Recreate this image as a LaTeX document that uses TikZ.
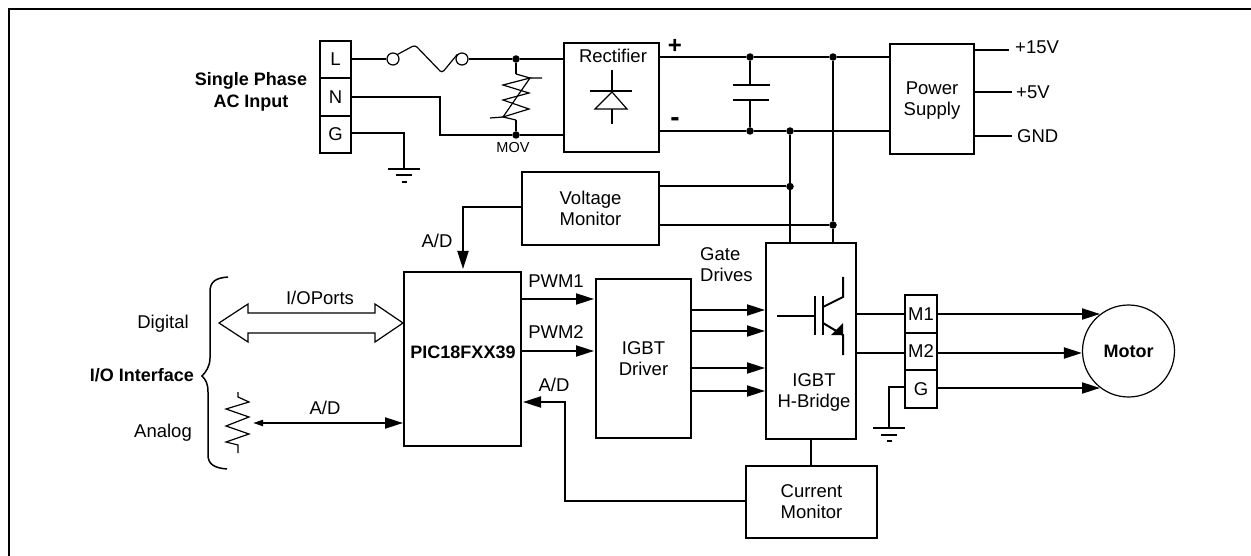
\documentclass[tikz,border=0pt]{standalone}
\usepackage{fontspec}
\setmainfont{Liberation Sans}
\usetikzlibrary{arrows.meta,calc}

\begin{document}
\begin{tikzpicture}[
  x=1pt, y=-1pt,
  txtNode/.style={inner sep=0pt, align=center, font=\fontsize{18.5}{21}\selectfont},
  boldNode/.style={txtNode, font=\fontsize{18}{22}\selectfont\bfseries},
  blockNode/.style={rectangle, draw, line width=2pt, inner sep=0pt, align=center,
                    font=\fontsize{18.5}{21}\selectfont},
  termNode/.style={blockNode, minimum width=31pt, minimum height=37.5pt},
  dotNode/.style={circle, fill=black, inner sep=0pt, minimum size=7.5pt},
  fuseNode/.style={circle, draw, line width=1.2pt, inner sep=0pt, minimum size=12pt},
  wire/.style={line width=2pt},
  thinLine/.style={line width=1.2pt},
  bigArrow/.style={wire, -{Triangle[length=18pt,width=11pt]}},
  gndSym/.pic={
    \draw[wire] (-16,0) -- (16,0);
    \draw[wire] (-8,6.5) -- (8,6.5);
    \draw[wire] (-2.5,13) -- (2.5,13);
  }
]
  \useasboundingbox (0,0) rectangle (1251,556);
  \draw[line width=2.6pt] (9,556) -- (9,9) -- (1251,9);

  % mains input
  \node[termNode] (termL) at (335.5,59.5) {L};
  \node[termNode] (termN) at (335.5,97) {N};
  \node[termNode] (termG) at (335.5,134.5) {G};
  \node[boldNode] (acIn) at (251,91.5) {Single Phase\\AC Input};
  \node[fuseNode] (fuseA) at (393,59) {};
  \node[fuseNode] (fuseB) at (462,59) {};
  \node[dotNode] (movTop) at (516,59) {};
  \node[dotNode] (movBot) at (516,135) {};
  \node[txtNode, font=\fontsize{14.5}{16}\selectfont] (movLbl) at (513,148) {MOV};
  \node[blockNode, minimum width=95pt, minimum height=109pt] (rect) at (611.5,97.5) {};
  \node[txtNode] (rectLbl) at (613,56) {Rectifier};
  \node[boldNode, font=\fontsize{24}{24}\selectfont\bfseries] (plusLbl) at (675,46) {+};
  \node[boldNode, font=\fontsize{28}{28}\selectfont\bfseries] (minusLbl) at (675,122) {-};
  \draw[wire] (termL.east |- fuseA) -- (fuseA);
  \draw[wire] (fuseB) -- (movTop) -- (rect.west |- movTop);
  \draw[thinLine, rounded corners=3pt] (fuseA.north east) -- (415,45) -- (442,73) -- (fuseB.north west);
  \draw[wire] (termN.east) -- (440,97) -- (440,135) -- (movBot) -- (rect.west |- movBot);
  \draw[wire] (movTop) -- (516,74);
  \draw[wire] (516,120) -- (movBot);
  \draw[thinLine] (516,74) -- (530,78) -- (503,85) -- (529,93) -- (503,100)
    -- (529,109) -- (503,117) -- (516,120);
  \draw[thinLine] (542,78) -- (530,78) -- (503,117) -- (490,118);
  \draw[wire] (termG.east |- 0,133) -- (404,133) -- (404,169);
  \pic at (404,169) {gndSym};

  % diode in the rectifier
  \draw[wire] (612,70) -- (612,124);
  \draw[wire] (590,91) -- (632,91);
  \draw[thinLine, fill=white] (612,92) -- (627,109) -- (595,109) -- cycle;

  % dc bus
  \node[blockNode, minimum width=84pt, minimum height=110pt, text depth=0pt] (psu) at (932,99) {Power\\Supply};
  \node[dotNode] (busA) at (750,57) {};
  \node[dotNode] (busB) at (833,57) {};
  \node[dotNode] (busC) at (750,131) {};
  \node[dotNode] (busD) at (790,131) {};
  \draw[wire] (rect.east |- busA) -- (busA) -- (busB) -- (psu.west |- busB);
  \draw[wire] (rect.east |- busC) -- (busC) -- (busD) -- (psu.west |- busD);
  \draw[thinLine] (busA) -- (750,85);
  \draw[wire] (733,85) -- (770,85);
  \draw[wire] (733,100) -- (769,100);
  \draw[wire] (750,100) -- (busC);

  \node[txtNode, anchor=west] (vA) at (1015,47) {+15V};
  \node[txtNode, anchor=west] (vB) at (1016,92) {+5V};
  \node[txtNode, anchor=west] (vC) at (1017,136) {GND};
  \draw[wire] (psu.east |- 0,50) -- (1009,50);
  \draw[wire] (psu.east |- vB) -- (1012,92);
  \draw[wire] (psu.east |- vC) -- (1012,136);

  % monitor and controller
  \node[blockNode, minimum width=137pt, minimum height=73pt] (vmon) at (590.5,208.5) {Voltage\\Monitor};
  \node[blockNode, minimum width=117pt, minimum height=174pt] (pic) at (462.5,359) {};
  \node[boldNode] (picLbl) at (463,352) {PIC18FXX39};
  \node[blockNode, minimum width=95pt, minimum height=159pt] (drv) at (643.5,358.5) {IGBT\\Driver};
  \node[blockNode, minimum width=90pt, minimum height=196pt] (hbr) at (811,341) {};
  \node[txtNode] (hbrLbl) at (814,392.5) {IGBT\\H-Bridge};
  \node[blockNode, minimum width=131pt, minimum height=72pt] (imon) at (811.5,502) {Current\\Monitor};
  \node[dotNode] (tapA) at (790,186.5) {};
  \node[dotNode] (tapB) at (833,225) {};
  \draw[wire] (busD) -- (tapA) -- (hbr.north -| tapA);
  \draw[wire] (busB) -- (tapB) -- (hbr.north -| tapB);
  \draw[wire] (vmon.east |- tapA) -- (tapA);
  \draw[wire] (vmon.east |- tapB) -- (tapB);
  \draw[bigArrow] (vmon.west |- 0,207) -- (463,207) -- (463,269);
  \node[txtNode] (adA) at (437,241) {A/D};

  \draw[bigArrow] (pic.east |- 0,299) -- (594,299);
  \draw[bigArrow] (pic.east |- 0,351) -- (594,351);
  \node[txtNode] (pwmA) at (556,281) {PWM1};
  \node[txtNode] (pwmB) at (556,332) {PWM2};
  \node[txtNode, anchor=west, align=left] (gateLbl) at (700,264.5) {Gate\\Drives};
  \foreach \yy in {310,331,368,391}
    \draw[bigArrow] (drv.east |- 0,\yy) -- (hbr.west |- 0,\yy);

  \draw[bigArrow] (imon.west |- 0,501) -- (565,501) -- (565,402) -- (523,402);
  \node[txtNode] (adB) at (554,385) {A/D};
  \draw[wire] (hbr.south) -- (imon.north -| hbr.south);

  % igbt symbol
  \draw[wire] (777,316) -- (815,316);
  \draw[wire] (815,296) -- (815,335);
  \draw[wire] (823,296) -- (823,335);
  \draw[wire] (823,307) -- (843,297) -- (843,277);
  \draw[wire] (823,323) -- (843,335) -- (843,355);
  \fill (831,335) -- (843,323) -- (843,335) -- cycle;

  % motor side
  \node[termNode, minimum width=32pt] (termA) at (921,314) {M1};
  \node[termNode, minimum width=32pt] (termB) at (921,351.5) {M2};
  \node[termNode, minimum width=32pt] (termC) at (921,389) {G};
  \node[circle, draw, line width=1.2pt, minimum size=92pt, inner sep=0pt,
        font=\fontsize{18}{22}\selectfont\bfseries] (motor) at (1128.5,351) {Motor};
  \draw[wire] (hbr.east |- 0,314) -- (termA.west |- 0,314);
  \draw[wire] (hbr.east |- 0,353) -- (termB.west |- 0,353);
  \draw[bigArrow] (termA.east |- 0,314) -- (1100,314);
  \draw[bigArrow] (termB.east |- 0,353) -- (motor.west |- 0,353);
  \draw[bigArrow] (termC.east |- 0,388) -- (1100,388);
  \draw[wire] (termC.west |- 0,387) -- (889,387) -- (889,428);
  \pic at (889,428) {gndSym};

  % i/o side
  \node[txtNode] (digLbl) at (163,324) {Digital};
  \node[txtNode] (anaLbl) at (163,433) {Analog};
  \node[boldNode, anchor=east] (ioLbl) at (194,375) {I/O Interface};
  \draw[line width=1.5pt] (228,277) .. controls (215,278) and (210,282) .. (210,292)
    -- (210,358) .. controls (210,366) and (206,372) .. (202,376)
    .. controls (206,380) and (208,384) .. (208,392)
    -- (208,455) .. controls (208,464) and (214,468) .. (227,469);
  \node[txtNode] (ioPorts) at (320,298) {I/OPorts};
  \draw[thinLine] (219,323) -- (248,304) -- (248,313) -- (375,313) -- (375,304) -- (pic.west |- 0,323)
    -- (375,342) -- (375,333) -- (248,333) -- (248,342) -- cycle;
  \draw[thinLine] (238,392) -- (238,397) -- (249,402) -- (226,409) -- (249,417) -- (226,426)
    -- (249,434) -- (226,442) -- (238,445) -- (238,453);
  \coordinate (potTap) at (253,423);
  \draw[wire, {Triangle[length=10pt,width=6pt]}-{Triangle[length=18pt,width=11pt]}]
    (potTap) -- (pic.west |- potTap);
  \node[txtNode] (adC) at (325,408) {A/D};
\end{tikzpicture}
\end{document}
